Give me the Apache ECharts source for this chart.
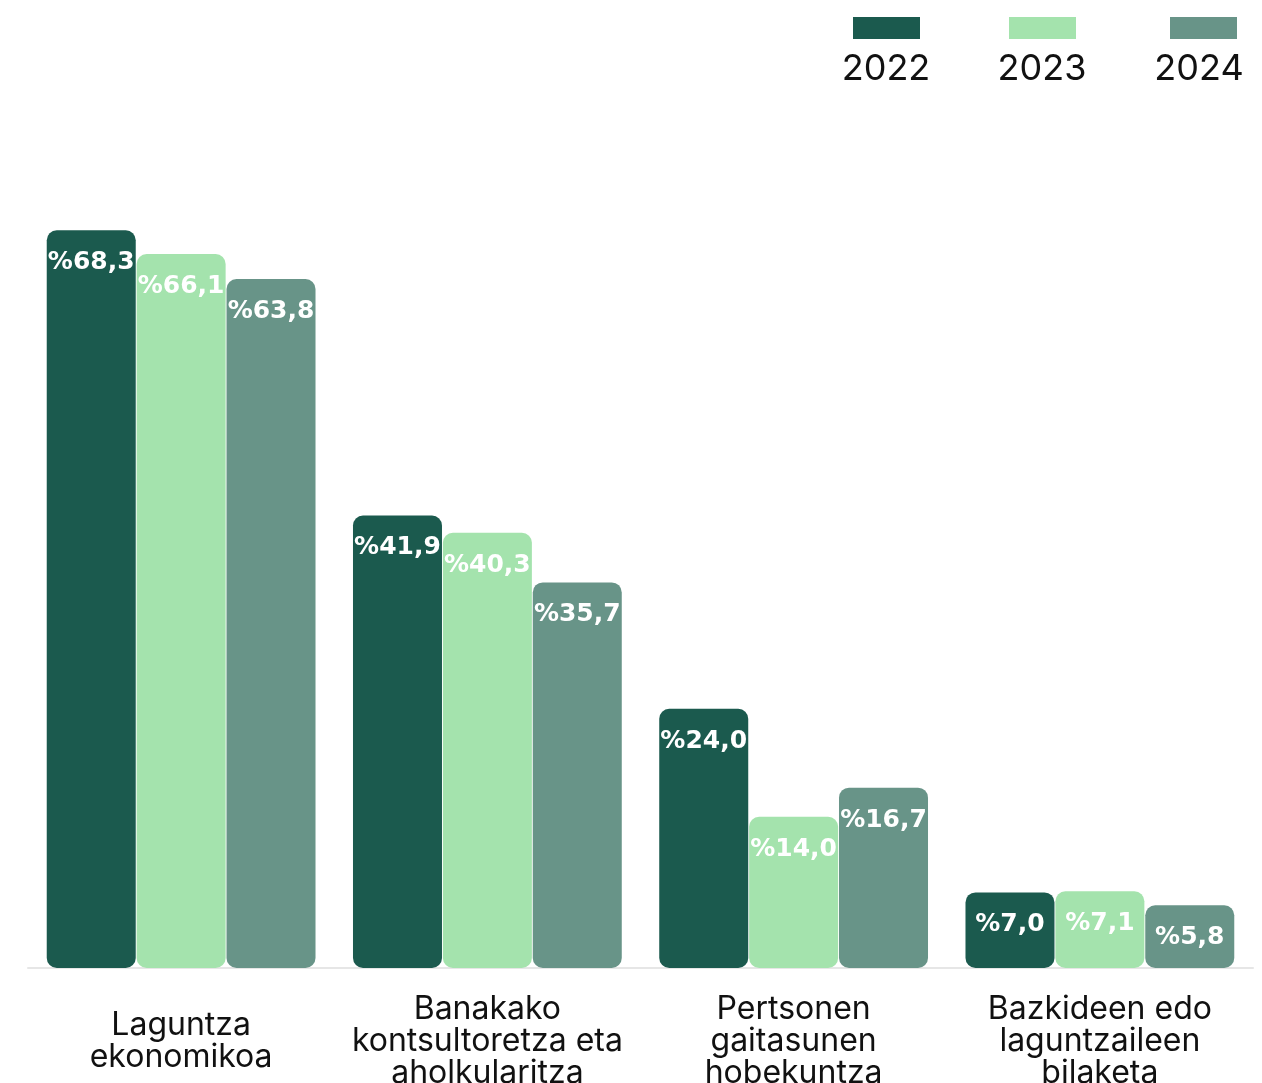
<!DOCTYPE html>
<html>
<head>
<meta charset="utf-8">
<script src="https://cdn.jsdelivr.net/npm/echarts@6/dist/echarts.min.js"></script>
<style>
html,body{margin:0;padding:0;background:#fff;}
#chart{width:1262px;height:1083px;}
</style>
</head>
<body>
<div id="chart"></div>
<script>
const categories = [
  "Laguntza\nekonomikoa",
  "Banakako\nkontsultoretza eta\naholkularitza",
  "Pertsonen\ngaitasunen\nhobekuntza",
  "Bazkideen edo\nlaguntzaileen\nbilaketa"
];
const years = ["2022", "2023", "2024"];
const values2022 = [68.3, 41.9, 24.0, 7.0];
const values2023 = [66.1, 40.3, 14.0, 7.1];
const values2024 = [63.8, 35.7, 16.7, 5.8];

const seriesValues = [values2022, values2023, values2024];
const colors = ["#1b5a4e", "#a4e3ad", "#689488"];
const legendLeft = [853, 1009, 1170];
const legendTextX = [886, 1042, 1199];

const chart = echarts.init(document.getElementById('chart'), null, {renderer: 'canvas'});

const option = {
  animation: false,
  backgroundColor: '#ffffff',
  grid: {left: 28, right: 9, top: 104, bottom: 115, containLabel: false, outerBoundsMode: 'none'},
  legend: years.map((y, i) => ({
    data: [y],
    left: legendLeft[i],
    top: 17,
    padding: 0,
    itemWidth: 67,
    itemHeight: 22,
    icon: 'rect',
    formatter: () => '',
    selectedMode: false
  })),
  graphic: years.map((y, i) => ({
    type: 'text',
    x: legendTextX[i],
    y: 69,
    style: {
      text: y,
      fontFamily: 'Inter',
      fontSize: 36,
      fill: '#111111',
      textAlign: 'center',
      textVerticalAlign: 'middle'
    }
  })),
  xAxis: {
    type: 'category',
    data: categories,
    axisLine: {show: true, lineStyle: {color: '#e6e6e6', width: 2}},
    axisTick: {show: false},
    axisLabel: {
      interval: 0,
      margin: 73,
      verticalAlign: 'middle',
      fontFamily: 'Inter',
      fontSize: 32,
      lineHeight: 32,
      color: '#111111'
    }
  },
  yAxis: {
    type: 'value',
    min: 0,
    max: 80,
    show: false,
    splitLine: {show: false}
  },
  series: years.map((y, i) => ({
    name: y,
    type: 'bar',
    data: seriesValues[i],
    barWidth: 89,
    barGap: '1%',
    itemStyle: {color: colors[i], borderRadius: 10},
    label: {
      show: true,
      position: 'insideTop',
      distance: 20,
      color: '#ffffff',
      fontFamily: 'DejaVu Sans',
      fontWeight: 'bold',
      fontSize: 25,
      formatter: p => '%' + p.value.toFixed(1).replace('.', ',')
    }
  }))
};
chart.setOption(option);
</script>
</body>
</html>
